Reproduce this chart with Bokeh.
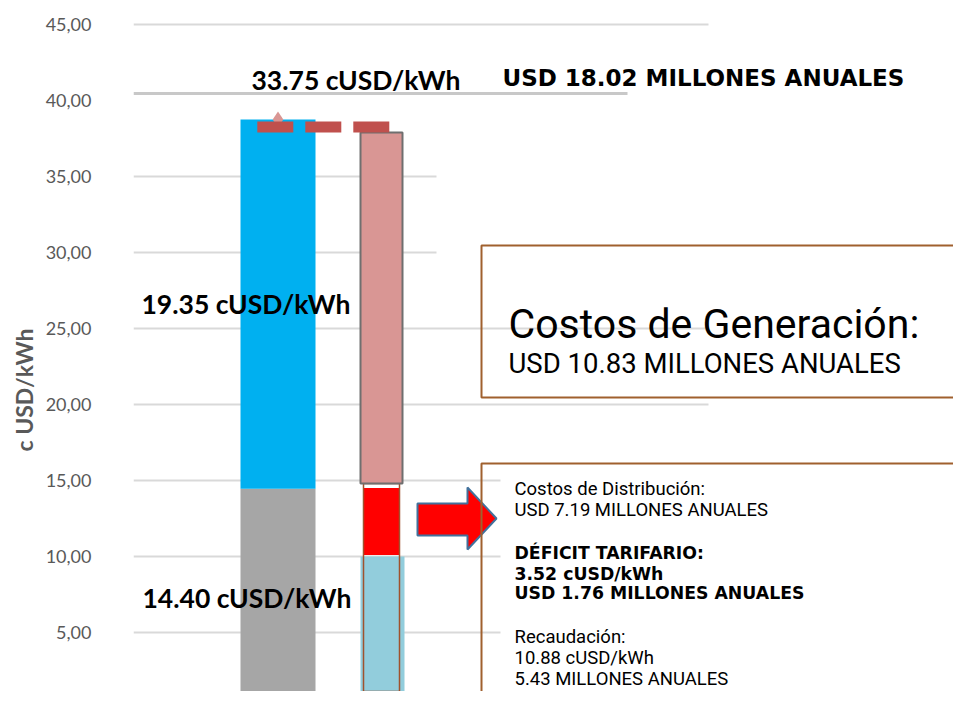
from bokeh.plotting import figure
from bokeh.models import Range1d, Label, FixedTicker, Title
from bokeh.embed import file_html
from bokeh.resources import INLINE

# ---------------- data ----------------
bar1_x = [1]
bar2_x = [2]
gris_base = [14.45]          # grey segment of bar 1
azul_segmento = [24.30]      # blue segment stacked on grey
recaudacion = [10.00]        # light-blue part of bar 2
deficit_desde = [10.10]      # red part of bar 2
deficit_hasta = [14.50]
distribucion_tope = [14.80]  # brown-outlined part of bar 2
generacion_tope = [37.90]    # pink part of bar 2
total_x = [0.80, 2.09]
total_y = [38.26, 38.26]     # dashed total line
marcador_y = [38.75]         # diamond marker on bar 1

y_ticks = [0, 5, 10, 15, 20, 25, 30, 35, 40, 45]
y_tick_labels = ["-", "5,00", "10,00", "15,00", "20,00", "25,00",
                 "30,00", "35,00", "40,00", "45,00"]
grid_values = [5, 10, 15, 20, 25, 30, 35, 45]

# ---------------- layout helpers (reference pixel -> data) ----------------
PX_LEFT, PX_RIGHT, PX_TOP, PX_BOTTOM = 133, 953, 10, 691
UNIT_X = 103.5
X_START = 1 - (277.5 - PX_LEFT) / UNIT_X
X_END = X_START + (PX_RIGHT - PX_LEFT) / UNIT_X
PX_ZERO, UNIT_Y = 708, 15.2


def X(px):
    return X_START + (px - PX_LEFT) / UNIT_X


def Y(py):
    return (PX_ZERO - py) / UNIT_Y


grid_end_px = {5: 500, 10: 500, 15: 500, 20: 708, 25: 708, 30: 436, 35: 436, 45: 708}

p = figure(width=953, height=691, output_backend="svg", toolbar_location=None,
           x_range=Range1d(X_START, X_END), y_range=Range1d(Y(PX_BOTTOM), Y(PX_TOP)),
           min_border_left=PX_LEFT, min_border_right=0, min_border_top=PX_TOP, min_border_bottom=0)
p.outline_line_color = None
p.xaxis.visible = False
p.xgrid.visible = False
p.ygrid.visible = False

ax = p.yaxis[0]
ax.ticker = FixedTicker(ticks=y_ticks)
ax.major_label_overrides = {t: l for t, l in zip(y_ticks, y_tick_labels)}
ax.axis_line_color = None
ax.major_tick_line_color = None
ax.minor_tick_line_color = None
ax.major_label_standoff = 36
ax.major_label_text_font = "Lato"
ax.major_label_text_font_size = "18px"
ax.major_label_text_color = "#595959"

p.add_layout(Title(text="c USD/kWh", align="left", offset=PX_BOTTOM - 451, standoff=10,
                   text_font="Lato", text_font_size="23px", text_font_style="bold",
                   text_color="#595959"), "left")

# gridlines
for v in grid_values:
    p.segment(x0=X(PX_LEFT), y0=v, x1=X(grid_end_px[v]), y1=v,
              line_color="#D9D9D9", line_width=2)
# thick grey line under the top labels
p.segment(x0=X(PX_LEFT), y0=Y(93), x1=X(627), y1=Y(93), line_color="#C8C8C8", line_width=3)

# bar 1
p.vbar(x=bar1_x, width=75 / UNIT_X, bottom=0, top=gris_base, fill_color="#A6A6A6", line_color=None)
p.vbar(x=bar1_x, width=75 / UNIT_X, bottom=gris_base,
       top=[g + a for g, a in zip(gris_base, azul_segmento)], fill_color="#00B0F0", line_color=None)

# bar 2
p.vbar(x=[b + 1 / UNIT_X for b in bar2_x], width=44 / UNIT_X, bottom=0, top=recaudacion,
       fill_color="#92CDDC", line_color=None)
p.vbar(x=bar2_x, width=36 / UNIT_X, bottom=deficit_desde, top=deficit_hasta,
       fill_color="#FF0000", line_color=None)
p.vbar(x=bar2_x, width=36 / UNIT_X, bottom=0, top=distribucion_tope,
       fill_color=None, line_color="#A0522D", line_width=1.5)
p.vbar(x=bar2_x, width=42 / UNIT_X, bottom=distribucion_tope, top=generacion_tope,
       fill_color="#D99694", line_color="#6F6F6F", line_width=2)

# total marker + dashed total line
p.scatter(x=bar1_x, y=marcador_y, marker="diamond", size=16, fill_color="#D99694", line_color=None)
p.line(x=total_x, y=total_y, line_color="#C0504D", line_width=11, line_dash="36 12", line_cap="butt")

# block arrow
ax_px = [417, 467, 467, 496, 467, 467, 417]
ay_px = [503, 503, 487, 518, 549, 535, 535]
p.patch(x=[X(v) for v in ax_px], y=[Y(v) for v in ay_px], fill_color="#FF0000",
        line_color="#41719C", line_width=2)

# text boxes
p.quad(left=[X(481), X(481)], right=[X(975), X(975)], top=[Y(245), Y(463)], bottom=[Y(397), Y(712)],
       fill_color=None, line_color="#A0602E", line_width=2)


def lab(text, px, py, font, size, bold=False, color="black"):
    p.add_layout(Label(x=X(px), y=Y(py), text=text, text_font=font, text_font_size=size,
                       text_font_style="bold" if bold else "normal", text_color=color,
                       text_baseline="alphabetic", text_align="left"))


lab("33.75 cUSD/kWh", 251, 79, "Lato", "26.5px", bold=True)
lab("USD 18.02 MILLONES ANUALES", 502, 77, "DejaVu Sans", "23px", bold=True)
lab("19.35 cUSD/kWh", 141, 303, "Lato", "26.5px", bold=True)
lab("14.40 cUSD/kWh", 142, 597, "Lato", "26.5px", bold=True)
lab("Costos de Generación:", 508, 323, "Roboto", "41px")
lab("USD 10.83 MILLONES ANUALES", 508, 363, "Roboto", "27.5px")

box2 = [("Costos de Distribución:", 488, False), ("USD 7.19 MILLONES ANUALES", 509, False),
        ("DÉFICIT TARIFARIO:", 552, True), ("3.52 cUSD/kWh", 573, True),
        ("USD 1.76 MILLONES ANUALES", 592, True), ("Recaudación:", 636, False),
        ("10.88 cUSD/kWh", 657, False), ("5.43 MILLONES ANUALES", 678, False)]
for t, py, b in box2:
    if b:
        lab(t, 514, py, "DejaVu Sans", "17.3px", bold=True)
    else:
        lab(t, 514, py, "Roboto", "18.5px")

open("out.html", "w").write(file_html(p, INLINE))
